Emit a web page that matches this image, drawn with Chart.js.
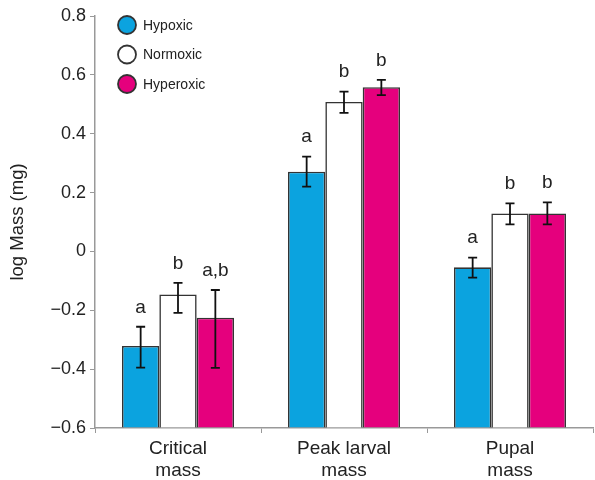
<!DOCTYPE html>
<html lang="en">
<head>
    <meta charset="UTF-8">
    <script src='https://cdn.jsdelivr.net/npm/chart.js@4.4.1/dist/chart.umd.min.js'></script>
    <title>log Mass</title>
    <style>
        body {margin: 0; background: #fff;}
        #wrap {width: 595px; height: 480px;}
    </style>
</head>
<body>
    <div id="wrap">
        <canvas id="chart" width="595" height="480"></canvas>
    </div>

    <script>
    const categories = [['Critical', 'mass'], ['Peak larval', 'mass'], ['Pupal', 'mass']];
    const seriesNames = ['Hypoxic', 'Normoxic', 'Hyperoxic'];

    const hypoxic   = [-0.321, 0.271, -0.054];
    const normoxic  = [-0.146, 0.508, 0.129];
    const hyperoxic = [-0.225, 0.558, 0.129];

    // error bar ends (upper / lower)
    const hypoxicHi   = [-0.256, 0.322, -0.021];
    const hypoxicLo   = [-0.395, 0.220, -0.089];
    const normoxicHi  = [-0.107, 0.543, 0.163];
    const normoxicLo  = [-0.209, 0.471, 0.092];
    const hyperoxicHi = [-0.131, 0.583, 0.167];
    const hyperoxicLo = [-0.396, 0.531, 0.092];

    const hypoxicLetters   = ['a', 'a', 'a'];
    const normoxicLetters  = ['b', 'b', 'b'];
    const hyperoxicLetters = ['a,b', 'b', 'b'];

    const yTicks = [-0.6, -0.4, -0.2, 0, 0.2, 0.4, 0.6, 0.8];

    const colors = ['#0ba3df', '#ffffff', '#e5007d'];
    const FONT = 'Liberation Sans, Arial, Helvetica, sans-serif';

    const errorBars = {
        id: 'errorBars',
        afterDatasetsDraw(chart) {
            const ctx = chart.ctx;
            const y = chart.scales.y;
            ctx.save();
            chart.data.datasets.forEach((ds, di) => {
                const meta = chart.getDatasetMeta(di);
                meta.data.forEach((bar, i) => {
                    const top = y.getPixelForValue(ds.errHi[i]);
                    const bot = y.getPixelForValue(ds.errLo[i]);
                    ctx.strokeStyle = '#111';
                    ctx.lineWidth = 1.8;
                    ctx.beginPath();
                    ctx.moveTo(bar.x, top); ctx.lineTo(bar.x, bot);
                    ctx.moveTo(bar.x - 4.5, top); ctx.lineTo(bar.x + 4.5, top);
                    ctx.moveTo(bar.x - 4.5, bot); ctx.lineTo(bar.x + 4.5, bot);
                    ctx.stroke();
                    ctx.fillStyle = '#222';
                    ctx.font = '19px ' + FONT;
                    ctx.textAlign = 'center';
                    ctx.textBaseline = 'bottom';
                    ctx.fillText(ds.letters[i], bar.x, top - 10);
                });
            });
            ctx.restore();
        }
    };

    const circleLegend = {
        id: 'circleLegend',
        afterDraw(chart) {
            const ctx = chart.ctx;
            ctx.save();
            chart.data.datasets.forEach((ds, di) => {
                const cy = 25 + di * 29.5;
                ctx.beginPath();
                ctx.arc(127, cy, 9, 0, Math.PI * 2);
                ctx.fillStyle = ds.backgroundColor;
                ctx.fill();
                ctx.lineWidth = 1.8;
                ctx.strokeStyle = '#333';
                ctx.stroke();
                ctx.fillStyle = '#222';
                ctx.font = '14px ' + FONT;
                ctx.textAlign = 'left';
                ctx.textBaseline = 'middle';
                ctx.fillText(ds.label, 143, cy + 1);
            });
            ctx.restore();
        }
    };

    function makeSet(k, values, hi, lo, letters) {
        return {
            label: seriesNames[k],
            data: values,
            base: -0.6,
            backgroundColor: colors[k],
            borderColor: '#333',
            borderWidth: 1.6,
            errHi: hi,
            errLo: lo,
            letters: letters,
            categoryPercentage: 0.675,
            barPercentage: 1.0
        };
    }

    const ctx = document.getElementById('chart').getContext('2d');
    const myChart = new Chart(ctx, {
        type: 'bar',
        data: {
            labels: categories,
            datasets: [
                makeSet(0, hypoxic, hypoxicHi, hypoxicLo, hypoxicLetters),
                makeSet(1, normoxic, normoxicHi, normoxicLo, normoxicLetters),
                makeSet(2, hyperoxic, hyperoxicHi, hyperoxicLo, hyperoxicLetters)
            ]
        },
        options: {
            responsive: false,
            animation: false,
            layout: {padding: {left: 0, right: 2, top: 16, bottom: 0}},
            plugins: {legend: {display: false}, tooltip: {enabled: false}},
            scales: {
                x: {
                    grid: {display: true, drawOnChartArea: false, drawTicks: true, tickLength: 5, color: '#999', offset: true},
                    border: {display: true, color: '#999', width: 1.5},
                    ticks: {color: '#222', font: {family: FONT, size: 19}, padding: 4, maxRotation: 0},
                    afterFit(s) { s.height = 52; }
                },
                y: {
                    min: -0.6, max: 0.8,
                    afterBuildTicks(s) { s.ticks = yTicks.map(v => ({value: v})); },
                    grid: {display: true, drawOnChartArea: false, drawTicks: true, tickLength: 5, color: '#999'},
                    border: {display: true, color: '#999', width: 1.5},
                    ticks: {
                        color: '#222', font: {family: FONT, size: 18}, padding: 4,
                        callback: v => v === 0 ? '0' : (v < 0 ? '\u2212' + Math.abs(v).toFixed(1) : v.toFixed(1))
                    },
                    title: {display: true, text: 'log Mass (mg)', color: '#222', font: {family: FONT, size: 18.5}, padding: {top: 7, bottom: 4}},
                    afterFit(s) { s.width = 95; }
                }
            }
        },
        plugins: [errorBars, circleLegend]
    });
    </script>
</body>
</html>
